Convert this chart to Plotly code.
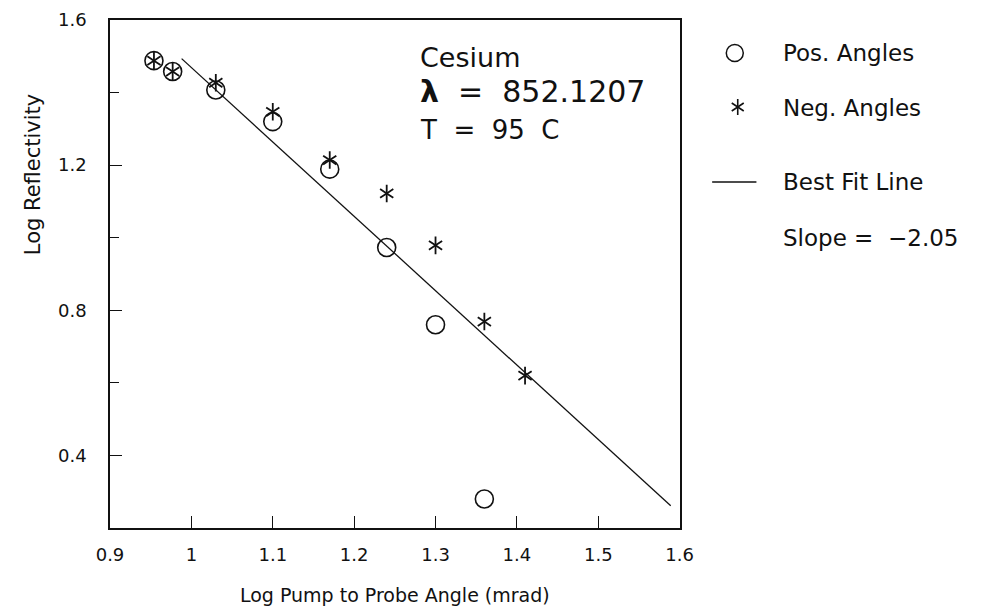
import plotly.graph_objects as go

# Log pump-to-probe angle (mrad) and log reflectivity, cesium line
pos_x = [0.954, 0.977, 1.03, 1.10, 1.17, 1.24, 1.30, 1.36]
pos_y = [1.488, 1.458, 1.407, 1.320, 1.189, 0.973, 0.760, 0.280]
neg_x = [0.954, 0.977, 1.03, 1.10, 1.17, 1.24, 1.30, 1.36, 1.41]
neg_y = [1.488, 1.458, 1.427, 1.347, 1.214, 1.122, 0.979, 0.769, 0.620]

# Best fit line
fit_slope = -2.05
fit_intercept = 3.519
fit_x = [0.988, 1.589]
fit_y = [fit_intercept + fit_slope * x for x in fit_x]

x_ticks = [0.9, 1.0, 1.1, 1.2, 1.3, 1.4, 1.5, 1.6]
x_ticktext = ["0.9", "1", "1.1", "1.2", "1.3", "1.4", "1.5", "1.6"]
y_ticks = [0.4, 0.8, 1.2, 1.6]
y_ticktext = ["0.4", "0.8", "1.2", "1.6"]

FONT = "DejaVu Sans"
INK = "#111111"
SP = "&nbsp;"

fig = go.Figure()

fig.add_trace(go.Scatter(x=fit_x, y=fit_y, mode="lines",
                         line=dict(color=INK, width=1.3), showlegend=False))
fig.add_trace(go.Scatter(x=pos_x, y=pos_y, mode="markers", showlegend=False,
                         marker=dict(symbol="circle-open", size=18, color=INK,
                                     line=dict(width=1.6, color=INK))))
# six-armed asterisk built from an upward and a downward "Y"
for sym in ("y-up-open", "y-down-open"):
    fig.add_trace(go.Scatter(x=neg_x, y=neg_y, mode="markers", showlegend=False,
                             marker=dict(symbol=sym, size=11, color=INK,
                                         line=dict(width=1.8, color=INK))))

# Key drawn on a helper axis pair (pixel-like units)
fig.add_trace(go.Scatter(x=[745], y=[53], xaxis="x2", yaxis="y2", mode="markers",
                         showlegend=False, cliponaxis=False,
                         marker=dict(symbol="circle-open", size=17, color=INK,
                                     line=dict(width=1.5, color=INK))))
for sym in ("y-up-open", "y-down-open"):
    fig.add_trace(go.Scatter(x=[748], y=[107], xaxis="x2", yaxis="y2", mode="markers",
                             showlegend=False, cliponaxis=False,
                             marker=dict(symbol=sym, size=10, color=INK,
                                         line=dict(width=1.6, color=INK))))
fig.add_trace(go.Scatter(x=[722, 767], y=[182, 182], xaxis="x2", yaxis="y2", mode="lines",
                         showlegend=False, cliponaxis=False,
                         line=dict(color=INK, width=1.3)))

slope_text = f"Slope{SP}={SP}{SP}−{abs(fit_slope):.2f}"
key_labels = ["Pos. Angles", "Neg. Angles", "Best Fit Line", slope_text]
key_rows = [53, 108, 182, 238]
annotations = []
for lab, yy in zip(key_labels, key_rows):
    annotations.append(dict(x=792, y=yy, xref="x2", yref="y2", text=lab, showarrow=False,
                            xanchor="left", yanchor="middle",
                            font=dict(family=FONT, size=23, color=INK)))

annotations += [
    dict(x=1.278, y=1.497, xref="x", yref="y", text="Cesium", showarrow=False,
         xanchor="left", yanchor="middle", font=dict(family=FONT, size=27, color=INK)),
    dict(x=1.278, y=1.402, xref="x", yref="y",
         text=f"<b>λ</b>{SP}{SP}={SP}{SP}852.1207", showarrow=False,
         xanchor="left", yanchor="middle", font=dict(family=FONT, size=30, color=INK)),
    dict(x=1.278, y=1.297, xref="x", yref="y",
         text=f"T{SP}{SP}={SP}{SP}95{SP}{SP}C", showarrow=False,
         xanchor="left", yanchor="middle", font=dict(family=FONT, size=26, color=INK)),
    # y-axis title
    dict(x=-0.0897, y=0.695, xref="paper", yref="paper", text="Log Reflectivity",
         textangle=-90, showarrow=False, xanchor="center", yanchor="middle",
         font=dict(family=FONT, size=21, color=INK)),
]

fig.update_layout(
    width=982, height=614,
    margin=dict(l=110, r=2, t=20, b=86),
    paper_bgcolor="white", plot_bgcolor="white",
    font=dict(family=FONT, size=18, color=INK),
    annotations=annotations,
    xaxis=dict(domain=[0, 579 / 870], range=[0.9, 1.6], tickvals=x_ticks, ticktext=x_ticktext,
               ticks="inside", ticklen=12, tickwidth=1.3, tickcolor=INK,
               showline=True, linecolor=INK, linewidth=1.6, mirror=True,
               showgrid=False, zeroline=False, ticklabelstandoff=10,
               title=dict(text="Log Pump to Probe Angle (mrad)", standoff=24,
                          font=dict(family=FONT, size=19))),
    yaxis=dict(range=[0.2, 1.6], tickvals=y_ticks, ticktext=y_ticktext,
               ticks="inside", ticklen=12, tickwidth=1.3, tickcolor=INK,
               minor=dict(tickvals=[0.2, 0.6, 1.0, 1.4], ticks="inside", ticklen=9,
                          tickwidth=1.2, tickcolor=INK),
               showline=True, linecolor=INK, linewidth=1.6, mirror=True,
               showgrid=False, zeroline=False, ticklabelstandoff=18),
    xaxis2=dict(domain=[579 / 870, 1], range=[689, 980], visible=False, anchor="y2"),
    yaxis2=dict(domain=[0, 1], range=[528, 20], visible=False, anchor="x2"),
    showlegend=False,
)

fig.write_html("out.html")
